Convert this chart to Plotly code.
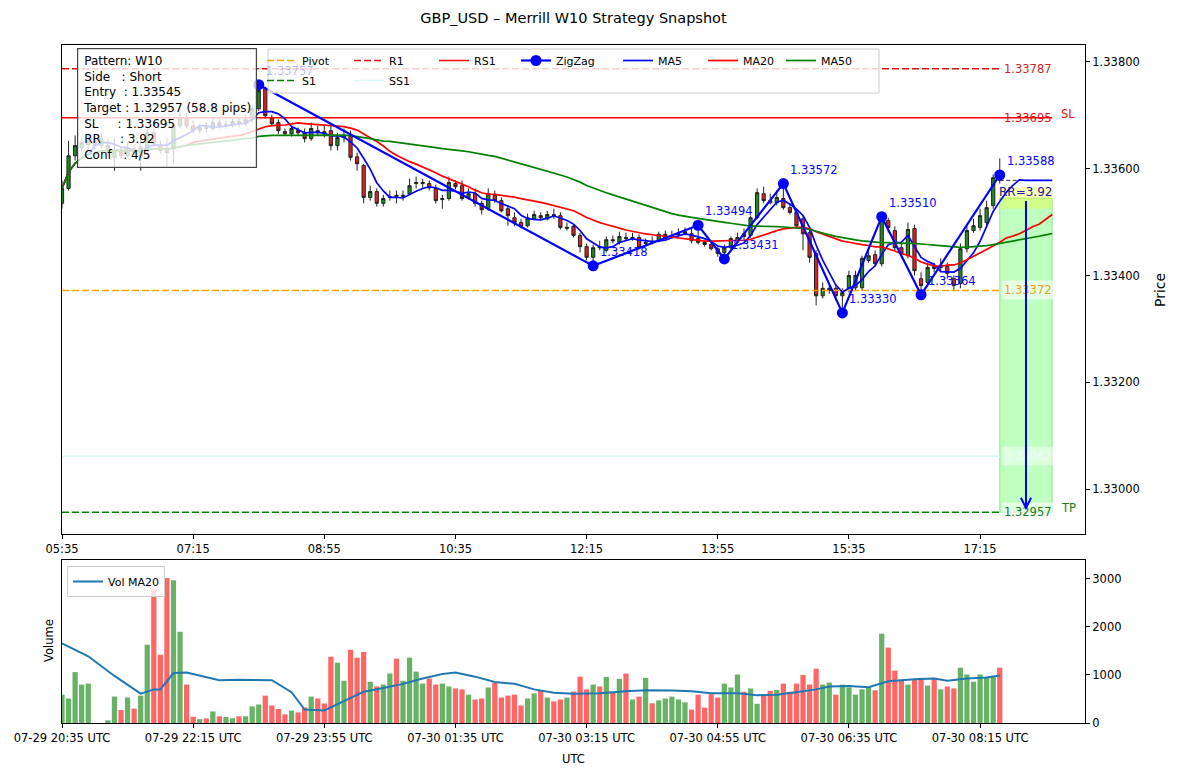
import pandas as pd
import plotly.graph_objects as go

# ------------------------------------------------------------------ data
start_utc = "2025-07-29 20:35"
local_offset_h = 9
bar_min = 5
n_proj = 8            # projection bars right of last candle
x_span_bars = 156     # visible x extent (bars)

open_ = [
    1.33535, 1.33563, 1.33624, 1.33639, 1.33645, 1.33652, 1.33643, 1.33630, 1.33621, 1.33634,
    1.33624, 1.33637, 1.33621, 1.33640, 1.33667, 1.33643, 1.33637, 1.33637, 1.33680, 1.33695,
    1.33680, 1.33671, 1.33677, 1.33675, 1.33686, 1.33680, 1.33682, 1.33688, 1.33684, 1.33692,
    1.33712, 1.33750, 1.33694, 1.33686, 1.33669, 1.33665, 1.33671, 1.33667, 1.33656, 1.33671,
    1.33669, 1.33671, 1.33643, 1.33658, 1.33662, 1.33622, 1.33606, 1.33546, 1.33557, 1.33535,
    1.33546, 1.33550, 1.33548, 1.33553, 1.33572, 1.33572, 1.33572, 1.33563, 1.33542, 1.33544,
    1.33572, 1.33568, 1.33546, 1.33553, 1.33535, 1.33525, 1.33550, 1.33540, 1.33525, 1.33508,
    1.33499, 1.33493, 1.33506, 1.33512, 1.33506, 1.33514, 1.33512, 1.33488, 1.33492, 1.33475,
    1.33454, 1.33434, 1.33454, 1.33447, 1.33467, 1.33462, 1.33471, 1.33469, 1.33471, 1.33460,
    1.33464, 1.33465, 1.33469, 1.33473, 1.33477, 1.33478, 1.33478, 1.33469, 1.33462, 1.33458,
    1.33450, 1.33443, 1.33452, 1.33465, 1.33478, 1.33475, 1.33508, 1.33553, 1.33540, 1.33536,
    1.33544, 1.33527, 1.33518, 1.33506, 1.33480, 1.33441, 1.33362, 1.33372, 1.33376, 1.33362,
    1.33376, 1.33377, 1.33377, 1.33428, 1.33439, 1.33422, 1.33503, 1.33484, 1.33452, 1.33437,
    1.33488, 1.33394, 1.33387, 1.33417, 1.33415, 1.33417, 1.33394, 1.33385, 1.33450, 1.33484,
    1.33490, 1.33499, 1.33531, 1.33583]
high_ = [
    1.33578, 1.33652, 1.33662, 1.33658, 1.33662, 1.33660, 1.33667, 1.33656, 1.33658, 1.33639,
    1.33649, 1.33643, 1.33658, 1.33675, 1.33675, 1.33652, 1.33658, 1.33686, 1.33705, 1.33705,
    1.33690, 1.33684, 1.33686, 1.33694, 1.33694, 1.33690, 1.33695, 1.33695, 1.33701, 1.33720,
    1.33757, 1.33753, 1.33701, 1.33692, 1.33675, 1.33680, 1.33677, 1.33675, 1.33686, 1.33680,
    1.33680, 1.33680, 1.33667, 1.33675, 1.33671, 1.33630, 1.33609, 1.33568, 1.33563, 1.33551,
    1.33559, 1.33559, 1.33559, 1.33581, 1.33585, 1.33581, 1.33578, 1.33570, 1.33551, 1.33585,
    1.33578, 1.33578, 1.33563, 1.33563, 1.33540, 1.33563, 1.33559, 1.33546, 1.33531, 1.33518,
    1.33506, 1.33516, 1.33521, 1.33518, 1.33521, 1.33525, 1.33518, 1.33499, 1.33495, 1.33480,
    1.33460, 1.33458, 1.33465, 1.33473, 1.33475, 1.33482, 1.33480, 1.33480, 1.33477, 1.33469,
    1.33473, 1.33482, 1.33484, 1.33484, 1.33488, 1.33490, 1.33488, 1.33494, 1.33465, 1.33464,
    1.33454, 1.33458, 1.33473, 1.33480, 1.33488, 1.33512, 1.33563, 1.33566, 1.33553, 1.33559,
    1.33572, 1.33535, 1.33525, 1.33512, 1.33488, 1.33447, 1.33387, 1.33383, 1.33383, 1.33376,
    1.33409, 1.33409, 1.33437, 1.33447, 1.33447, 1.33510, 1.33508, 1.33492, 1.33460, 1.33499,
    1.33495, 1.33406, 1.33424, 1.33424, 1.33432, 1.33424, 1.33400, 1.33460, 1.33493, 1.33506,
    1.33525, 1.33540, 1.33589, 1.33619]
low_ = [
    1.33525, 1.33559, 1.33615, 1.33630, 1.33634, 1.33634, 1.33637, 1.33624, 1.33596, 1.33619,
    1.33621, 1.33624, 1.33596, 1.33615, 1.33639, 1.33628, 1.33602, 1.33609, 1.33675, 1.33675,
    1.33665, 1.33665, 1.33667, 1.33671, 1.33675, 1.33675, 1.33677, 1.33677, 1.33680, 1.33686,
    1.33708, 1.33694, 1.33679, 1.33665, 1.33662, 1.33660, 1.33662, 1.33649, 1.33652, 1.33662,
    1.33658, 1.33634, 1.33634, 1.33649, 1.33615, 1.33596, 1.33535, 1.33540, 1.33529, 1.33529,
    1.33540, 1.33535, 1.33540, 1.33550, 1.33563, 1.33564, 1.33559, 1.33535, 1.33525, 1.33540,
    1.33561, 1.33540, 1.33542, 1.33529, 1.33514, 1.33521, 1.33536, 1.33518, 1.33493, 1.33492,
    1.33488, 1.33490, 1.33503, 1.33503, 1.33503, 1.33506, 1.33486, 1.33484, 1.33471, 1.33443,
    1.33428, 1.33418, 1.33447, 1.33443, 1.33460, 1.33458, 1.33464, 1.33465, 1.33449, 1.33456,
    1.33458, 1.33462, 1.33465, 1.33469, 1.33473, 1.33475, 1.33460, 1.33458, 1.33454, 1.33447,
    1.33435, 1.33431, 1.33449, 1.33462, 1.33465, 1.33471, 1.33505, 1.33535, 1.33533, 1.33531,
    1.33523, 1.33514, 1.33488, 1.33447, 1.33424, 1.33344, 1.33357, 1.33366, 1.33353, 1.33330,
    1.33368, 1.33372, 1.33372, 1.33424, 1.33417, 1.33417, 1.33480, 1.33447, 1.33432, 1.33432,
    1.33400, 1.33364, 1.33379, 1.33406, 1.33409, 1.33394, 1.33372, 1.33376, 1.33443, 1.33480,
    1.33484, 1.33492, 1.33525, 1.33572]
close_ = [
    1.33563, 1.33624, 1.33643, 1.33649, 1.33652, 1.33643, 1.33656, 1.33643, 1.33634, 1.33624,
    1.33637, 1.33630, 1.33640, 1.33667, 1.33647, 1.33634, 1.33630, 1.33680, 1.33695, 1.33680,
    1.33671, 1.33677, 1.33675, 1.33686, 1.33680, 1.33682, 1.33688, 1.33684, 1.33692, 1.33712,
    1.33746, 1.33699, 1.33684, 1.33671, 1.33665, 1.33675, 1.33667, 1.33656, 1.33675, 1.33667,
    1.33665, 1.33643, 1.33658, 1.33662, 1.33621, 1.33609, 1.33546, 1.33557, 1.33535, 1.33544,
    1.33548, 1.33548, 1.33550, 1.33568, 1.33574, 1.33574, 1.33564, 1.33540, 1.33544, 1.33574,
    1.33566, 1.33544, 1.33553, 1.33535, 1.33523, 1.33553, 1.33540, 1.33521, 1.33512, 1.33499,
    1.33492, 1.33508, 1.33514, 1.33508, 1.33514, 1.33512, 1.33490, 1.33490, 1.33475, 1.33454,
    1.33434, 1.33452, 1.33452, 1.33467, 1.33465, 1.33473, 1.33469, 1.33471, 1.33452, 1.33462,
    1.33462, 1.33477, 1.33477, 1.33475, 1.33478, 1.33482, 1.33465, 1.33462, 1.33458, 1.33450,
    1.33441, 1.33452, 1.33469, 1.33471, 1.33473, 1.33508, 1.33555, 1.33540, 1.33536, 1.33546,
    1.33527, 1.33518, 1.33493, 1.33478, 1.33434, 1.33362, 1.33376, 1.33376, 1.33362, 1.33368,
    1.33400, 1.33400, 1.33432, 1.33437, 1.33422, 1.33506, 1.33490, 1.33452, 1.33441, 1.33486,
    1.33409, 1.33381, 1.33415, 1.33413, 1.33419, 1.33404, 1.33381, 1.33450, 1.33484, 1.33493,
    1.33512, 1.33527, 1.33583, 1.33578]
volume = [
    590, 510, 1060, 800, 820, 0, 0, 55, 550, 270,
    530, 300, 570, 1630, 2790, 1420, 3020, 2970, 1900, 800,
    130, 80, 95, 240, 140, 125, 100, 140, 140, 345,
    385, 570, 365, 290, 180, 260, 220, 325, 550, 510,
    405, 1380, 1255, 880, 1525, 1360, 1480, 860, 760, 800,
    1030, 1340, 880, 1360, 1070, 820, 925, 800, 820, 760,
    720, 700, 590, 490, 510, 740, 840, 530, 570, 590,
    365, 510, 615, 675, 530, 450, 490, 530, 655, 965,
    700, 800, 760, 960, 640, 920, 1030, 490, 550, 940,
    410, 470, 510, 550, 490, 430, 280, 590, 320, 600,
    530, 820, 740, 1010, 650, 720, 400, 570, 670, 690,
    820, 650, 820, 1000, 800, 1130, 800, 840, 590, 800,
    740, 590, 700, 740, 680, 1860, 1570, 1090, 900, 800,
    900, 940, 780, 940, 700, 760, 720, 1150, 1010, 860,
    1010, 960, 960, 1150]

# Vol MA20 (bar index, value)
volma_bar = [0, 4, 8, 12, 14, 15, 17, 19, 24, 27, 32, 35, 37, 40, 43, 46, 49, 52, 55, 58,
             60, 63, 66, 69, 72, 75, 78, 82, 86, 89, 93, 96, 99, 103, 106, 109, 113, 115,
             117, 120, 123, 124, 126, 130, 133, 135, 138, 141, 143]
volma_val = [1660, 1390, 980, 610, 700, 700, 1040, 1050, 890, 900, 890, 640, 280, 260, 455,
             650, 730, 815, 925, 1020, 1050, 965, 855, 815, 700, 630, 610, 620, 660, 680,
             675, 660, 620, 620, 580, 590, 660, 700, 760, 770, 745, 785, 870, 910, 925,
             880, 925, 950, 990]

zz_bar = [30, 81, 97, 101, 110, 119, 125, 131, 143]
zz_price = [1.33757, 1.33418, 1.33494, 1.33431, 1.33572, 1.33330, 1.33510, 1.33364, 1.33588]

pivot, r1, s1, rs1, ss1 = 1.33372, 1.33787, 1.32957, 1.33695, 1.33062

pattern, side, conf = "W10", "Short", "4/5"
entry, target, stop, rr, pips = 1.33545, 1.32957, 1.33695, 3.92, 58.8
entry_band = 0.0002
rr_label_price = 1.33557
arrow_bar = 147

# ------------------------------------------------------------------ geometry helpers
W, H = 1178, 777
ML, MR, MT, MB = 62, 93, 45, 54
PW, PH = W - ML - MR, H - MT - MB


def fx(px):
    return (px - ML) / PW


def fy(py):
    return (H - MB - py) / PH


FONT = "DejaVu Sans"
n = len(close_)
step = pd.Timedelta(minutes=bar_min)
t_utc = pd.date_range(start_utc, periods=n + n_proj, freq=f"{bar_min}min")
t_loc = t_utc + pd.Timedelta(hours=local_offset_h)


def at_loc(b):
    return (t_loc[0] + b * step).strftime("%Y-%m-%d %H:%M:%S")


def at_utc(b):
    return (t_utc[0] + b * step).strftime("%Y-%m-%d %H:%M:%S")


ext_close = pd.Series(close_ + [close_[-1]] * n_proj)
ma5 = ext_close.rolling(5, min_periods=1).mean()
ma20 = ext_close.rolling(20, min_periods=1).mean()
ma50 = ext_close.rolling(50, min_periods=1).mean()

fig = go.Figure()

# candles
fig.add_trace(go.Candlestick(
    x=t_loc[:n], open=open_, high=high_, low=low_, close=close_,
    increasing=dict(fillcolor="#1e8a1e", line=dict(color="#222222", width=1)),
    decreasing=dict(fillcolor="#e02020", line=dict(color="#222222", width=1)),
    whiskerwidth=0, showlegend=False, hoverinfo="skip", xaxis="x", yaxis="y"))

# projected flat bars (doji ticks at last close)
fig.add_trace(go.Scatter(
    x=[t_loc[n - 1], t_loc[n - 1 + n_proj]], y=[close_[-1], close_[-1]], mode="lines",
    line=dict(color="#333333", width=1, dash="4px,2.5px"), showlegend=False,
    hoverinfo="skip", xaxis="x", yaxis="y"))

dash = "7px,3px"
lv_x = [t_loc[0], t_loc[n - 1]]
fig.add_trace(go.Scatter(x=lv_x, y=[pivot] * 2, mode="lines", name="Pivot",
                         line=dict(color="orange", width=1.5, dash=dash),
                         legend="legend", legendwidth=42))
fig.add_trace(go.Scatter(x=lv_x, y=[r1] * 2, mode="lines", name="R1",
                         line=dict(color="#e01010", width=1.5, dash=dash),
                         legend="legend", legendwidth=40))
fig.add_trace(go.Scatter(x=[t_loc[0], t_loc[n - 1 + n_proj]], y=[rs1] * 2, mode="lines",
                         name="RS1", line=dict(color="#ff0000", width=1.5),
                         legend="legend", legendwidth=37))
fig.add_trace(go.Scatter(x=lv_x, y=[s1] * 2, mode="lines", name="S1",
                         line=dict(color="green", width=1.5, dash=dash),
                         legend="legend2", legendwidth=42))
fig.add_trace(go.Scatter(x=lv_x, y=[ss1] * 2, mode="lines", name="SS1",
                         line=dict(color="#d8f7f7", width=1.5),
                         legend="legend2", legendwidth=40))

# moving averages
fig.add_trace(go.Scatter(x=t_loc, y=ma5, mode="lines", name="MA5",
                         line=dict(color="#0000ff", width=1.7), legend="legend",
                         legendwidth=40))
fig.add_trace(go.Scatter(x=t_loc, y=ma20, mode="lines", name="MA20",
                         line=dict(color="#ff0000", width=1.7), legend="legend",
                         legendwidth=33))
fig.add_trace(go.Scatter(x=t_loc, y=ma50, mode="lines", name="MA50",
                         line=dict(color="green", width=1.7), legend="legend",
                         legendwidth=34))

# zigzag
fig.add_trace(go.Scatter(x=[t_loc[b] for b in zz_bar], y=zz_price, mode="lines+markers",
                         name="ZigZag", line=dict(color="#0000ff", width=2.2),
                         marker=dict(size=11, color="#0000ff"), legend="legend",
                         legendwidth=57))

# volume
vcol = ["rgba(0,128,0,0.6)" if c >= o else "rgba(255,0,0,0.6)"
        for o, c in zip(open_, close_)]
fig.add_trace(go.Bar(x=t_utc[:n], y=volume, marker=dict(color=vcol, line=dict(width=0)),
                     showlegend=False, hoverinfo="skip", xaxis="x2", yaxis="y2"))
fig.add_trace(go.Scatter(x=[t_utc[b] for b in volma_bar], y=volma_val, mode="lines",
                         name="Vol MA20", line=dict(color="#1f77b4", width=2),
                         legend="legend3", xaxis="x2", yaxis="y2"))

# legend order (row 1)
order = ["Pivot", "R1", "RS1", "ZigZag", "MA5", "MA20", "MA50"]
for tr in fig.data:
    if tr.name in order:
        tr.legendrank = order.index(tr.name) + 1

# ------------------------------------------------------------------ shapes
shapes = [
    dict(type="rect", xref="x", yref="y", x0=at_loc(n - 1), x1=at_loc(n - 1 + n_proj),
         y0=target, y1=entry, fillcolor="rgba(0,255,0,0.25)",
         line=dict(color="rgba(0,190,0,0.35)", width=1), layer="below"),
    dict(type="rect", xref="x", yref="y", x0=at_loc(n - 1), x1=at_loc(n - 1 + n_proj),
         y0=entry - entry_band, y1=entry + entry_band, fillcolor="rgba(255,255,0,0.28)",
         line=dict(width=0), layer="below"),
    # legend frame
    dict(type="rect", xref="paper", yref="paper", x0=fx(268), x1=fx(879), y0=fy(93),
         y1=fy(49), fillcolor="rgba(255,255,255,0.8)", line=dict(color="#cccccc", width=1),
         layer="above"),
]

# ------------------------------------------------------------------ annotations
ann = []
for i, (b, p) in enumerate(zip(zz_bar, zz_price)):
    ann.append(dict(x=at_loc(b), y=p, xref="x", yref="y", text=f"{p:.5f}", showarrow=False,
                    xanchor="left", yanchor="bottom", xshift=5, yshift=5,
                    font=dict(size=11.5, color="rgba(0,0,255,0.3)" if i == 0 else "#0000ff")))

level_labels = [(r1, "#d42020", "rgba(255,255,255,0.6)"),
                (rs1, "#e01010", "rgba(255,255,255,0.0)"),
                (pivot, "#e8a020", "rgba(255,255,255,0.6)"),
                (ss1, "#eefcfc", "rgba(255,255,255,0.45)"),
                (s1, "#1a7a1a", "rgba(255,255,255,0.6)")]
for v, c, bg in level_labels:
    ann.append(dict(x=at_loc(n - 1), y=v, xref="x", yref="y", text=f"{v:.5f}",
                    showarrow=False, xanchor="left", yanchor="middle", xshift=1,
                    bgcolor=bg, borderpad=2, font=dict(size=11.5, color=c)))

ann.append(dict(x=at_loc(n - 1 + n_proj + 1), y=stop, xref="x", yref="y", text="SL",
                showarrow=False, xanchor="left", yanchor="middle", yshift=4,
                font=dict(size=11.5, color="#e01010")))
ann.append(dict(x=at_loc(n - 1 + n_proj + 1), y=target, xref="x", yref="y", text="TP",
                showarrow=False, xanchor="left", yanchor="middle", yshift=4,
                font=dict(size=11.5, color="#1a7a1a")))

ann.append(dict(x=at_loc(arrow_bar), y=rr_label_price, xref="x", yref="y",
                text=f"RR={rr:.2f}", showarrow=False, xanchor="center", yanchor="middle",
                font=dict(size=12, color="#1a1a9a")))

ann.append(dict(x=at_loc(arrow_bar), y=target + 0.00004, xref="x", yref="y",
                ax=at_loc(arrow_bar), ay=entry - 0.00003, axref="x", ayref="y",
                text="", showarrow=True, arrowhead=5, arrowsize=1, arrowwidth=2,
                arrowcolor="#0000ff", standoff=0, startstandoff=0))

nb = "\u00a0"
info_lines = [
    f"Pattern: {pattern}",
    f"Side{nb * 3}: {side}",
    f"Entry{nb * 2}: {entry:.5f}",
    f"Target : {target:.5f} ({pips:.1f} pips)",
    f"SL{nb * 5}: {stop:.5f}",
    f"RR{nb * 5}: {rr:.2f}",
    f"Conf{nb * 3}: {conf}",
]
ann.append(dict(x=fx(77), y=fy(48), xref="paper", yref="paper", text="<br>".join(info_lines),
                showarrow=False, xanchor="left", yanchor="top", align="left",
                bgcolor="rgba(255,255,255,0.8)", bordercolor="#444444", borderwidth=1.2,
                borderpad=5, font=dict(size=12, color="black")))

ann.append(dict(x=fx(1160), y=fy(290), xref="paper", yref="paper", text="Price",
                showarrow=False, textangle=-90, xanchor="center", yanchor="middle",
                font=dict(size=14, color="black")))
ann.append(dict(x=fx(49), y=fy(641), xref="paper", yref="paper", text="Volume",
                showarrow=False, textangle=-90, xanchor="center", yanchor="middle",
                font=dict(size=11.5, color="black")))
ann.append(dict(x=fx(573.5), y=fy(759), xref="paper", yref="paper", text="UTC",
                showarrow=False, xanchor="center", yanchor="middle",
                font=dict(size=11.5, color="black")))

# ------------------------------------------------------------------ layout
axis_common = dict(showline=True, mirror=True, linecolor="black", linewidth=1,
                   showgrid=False, zeroline=False, ticks="outside", ticklen=4,
                   tickcolor="black", tickfont=dict(size=11.5, color="black"))
dtick_ms = 100 * 60 * 1000

fig.update_layout(
    width=W, height=H, autosize=False,
    margin=dict(l=ML, r=MR, t=MT, b=MB),
    paper_bgcolor="white", plot_bgcolor="white",
    font=dict(family=FONT, size=11.5, color="black"),
    title=dict(text="GBP_USD \u2013 Merrill W10 Strategy Snapshot", x=0.5, xref="paper",
               y=1 - 18 / H, yref="container", xanchor="center", yanchor="middle",
               font=dict(size=14.5, color="black")),
    bargap=0.2,
    xaxis=dict(type="date", domain=[0, 1], anchor="y",
               range=[at_loc(0), at_loc(x_span_bars)], tick0=at_loc(0), dtick=dtick_ms,
               tickformat="%H:%M", rangeslider=dict(visible=False), **axis_common),
    yaxis=dict(domain=[fy(534), 1], anchor="x", side="right",
               range=[1.329164, 1.338312], tickvals=[1.330, 1.332, 1.334, 1.336, 1.338],
               tickformat=".5f", **axis_common),
    xaxis2=dict(type="date", domain=[0, 1], anchor="y2",
                range=[at_utc(0), at_utc(x_span_bars)], tick0=at_utc(0), dtick=dtick_ms,
                tickformat="%m-%d %H:%M UTC", **axis_common),
    yaxis2=dict(domain=[0, fy(560)], anchor="x2", side="right", range=[0, 3394],
                tickvals=[0, 1000, 2000, 3000], **axis_common),
    legend=dict(x=fx(262), y=fy(46), xanchor="left", yanchor="top", orientation="h",
                bgcolor="rgba(0,0,0,0)", borderwidth=0, font=dict(size=11),
                itemwidth=30, traceorder="normal"),
    legend2=dict(x=fx(262), y=fy(66), xanchor="left", yanchor="top", orientation="h",
                 bgcolor="rgba(0,0,0,0)", borderwidth=0, font=dict(size=11),
                 itemwidth=30),
    legend3=dict(x=fx(67), y=fy(566), xanchor="left", yanchor="top",
                 bgcolor="rgba(255,255,255,0.8)", bordercolor="#cccccc", borderwidth=1,
                 font=dict(size=11), itemwidth=30),
    shapes=shapes,
    annotations=ann,
)

fig.write_html("out.html")
